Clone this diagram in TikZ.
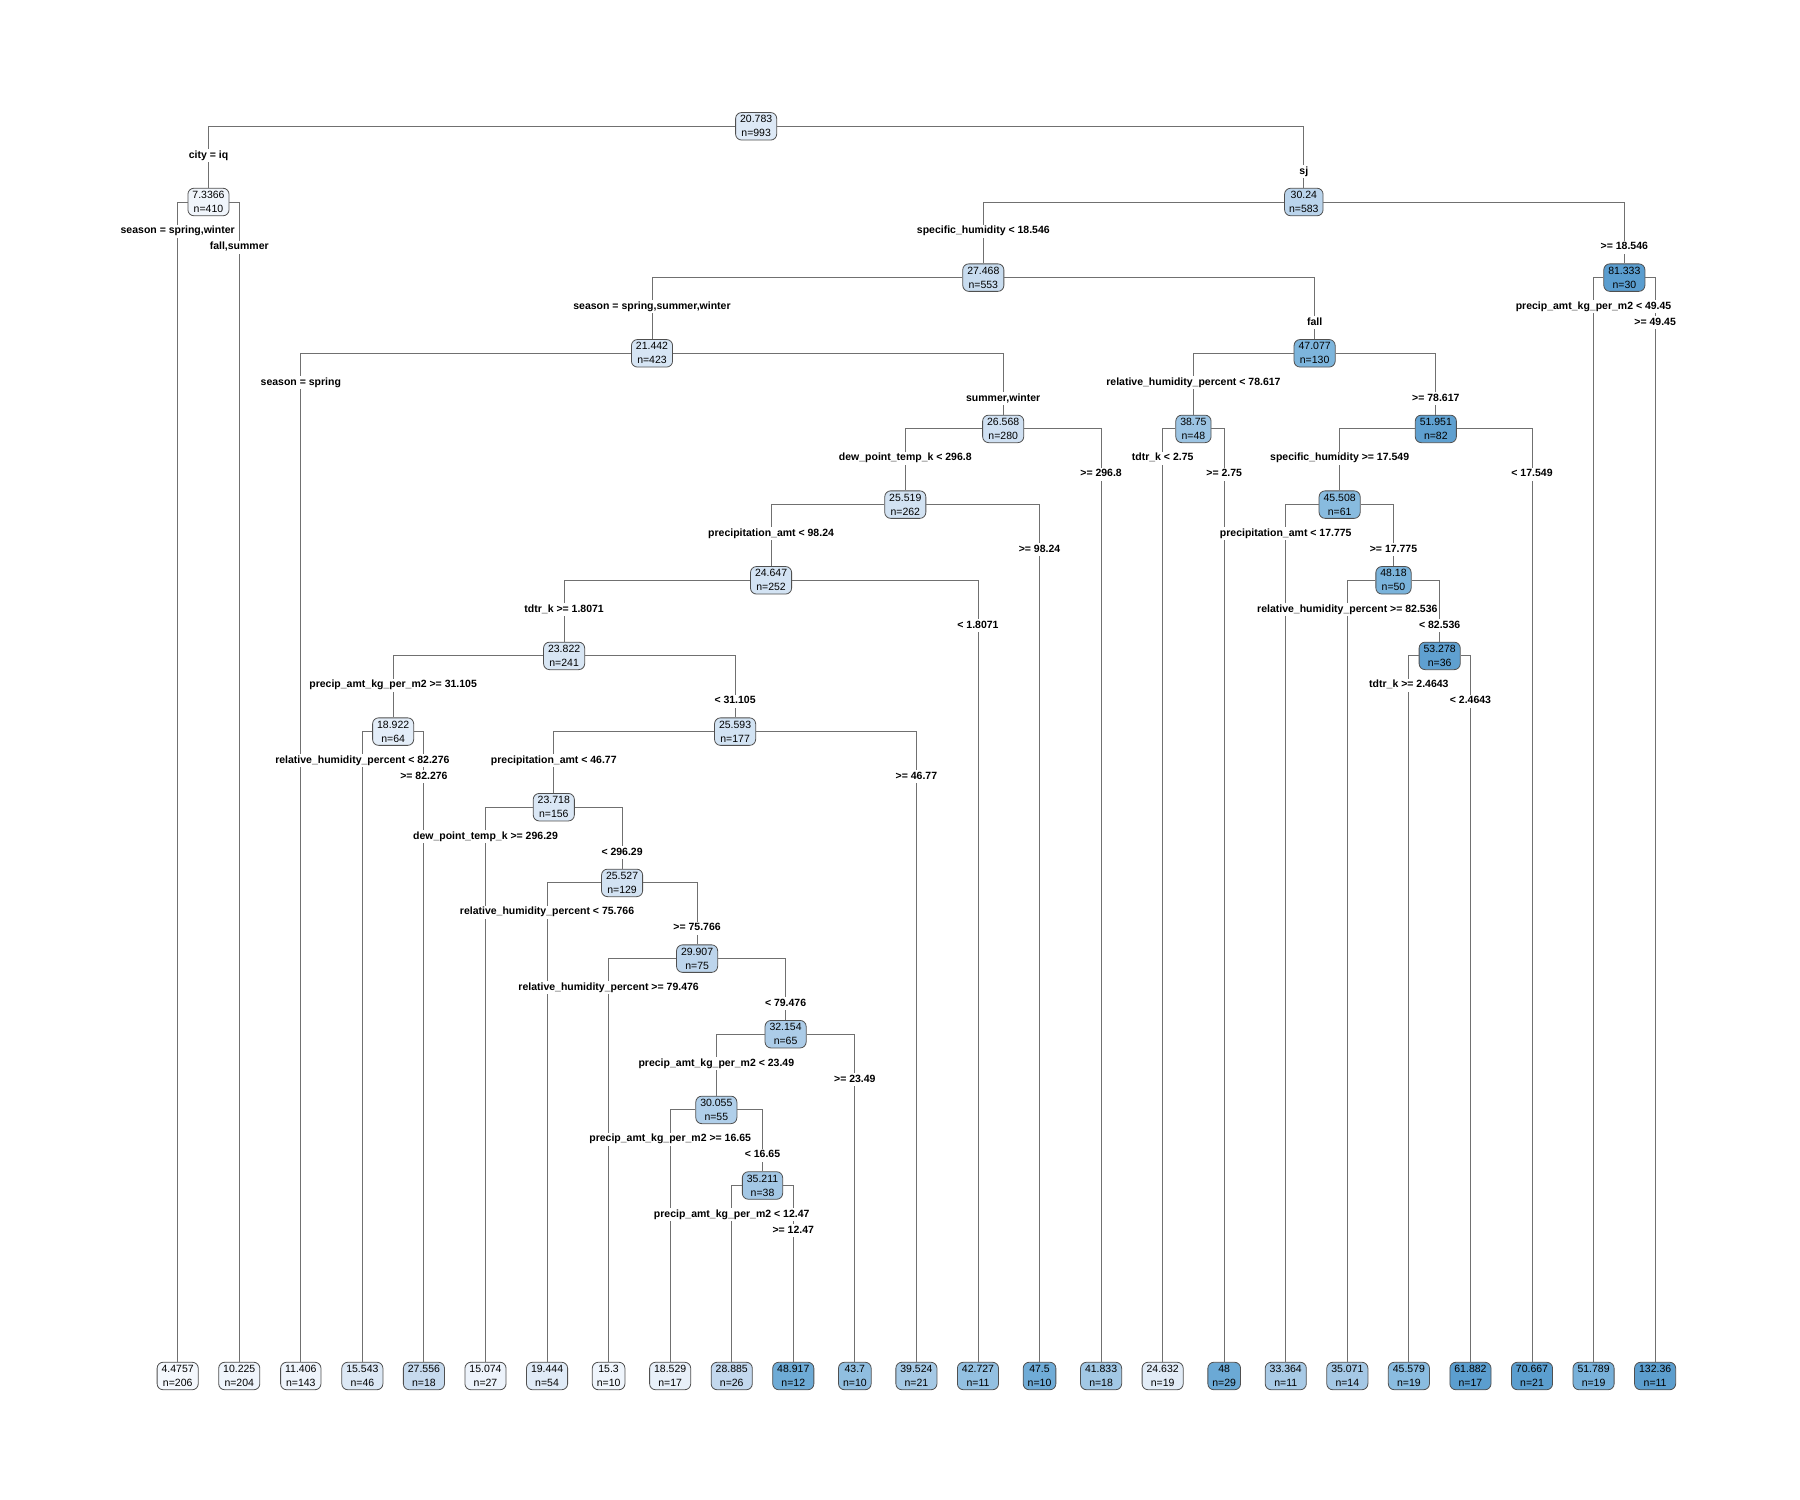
\documentclass[tikz,border=0pt]{standalone}
\usepackage{fontspec}
\setmainfont{Liberation Sans}
\usetikzlibrary{calc}
\definecolor{ln}{HTML}{707070}
\definecolor{bd}{HTML}{505050}
% node fills
\definecolor{cA}{HTML}{DDE9F6}% 20.783
\definecolor{cB}{HTML}{F0F5FB}% 7.3366
\definecolor{cC}{HTML}{BAD4EC}% 30.24
\definecolor{cD}{HTML}{C8DCEF}% 27.468
\definecolor{cE}{HTML}{5A9DCF}% 81.333
\definecolor{cF}{HTML}{D6E5F4}% 21.442
\definecolor{cG}{HTML}{7DB5DC}% 47.077
\definecolor{cH}{HTML}{CFE0F2}% 26.568
\definecolor{cI}{HTML}{9CC4E3}% 38.75
\definecolor{cJ}{HTML}{5FA0D0}% 51.951
\definecolor{cK}{HTML}{D2E2F2}% 25.519
\definecolor{cL}{HTML}{88BBDF}% 45.508
\definecolor{cM}{HTML}{D3E3F3}% 24.647
\definecolor{cN}{HTML}{7AB3DB}% 48.18
\definecolor{cO}{HTML}{D8E6F4}% 23.822
\definecolor{cP}{HTML}{5FA0D0}% 53.278
\definecolor{cQ}{HTML}{E3EDF8}% 18.922
\definecolor{cR}{HTML}{D2E3F3}% 25.593
\definecolor{cS}{HTML}{DAE7F5}% 23.718
\definecolor{cT}{HTML}{D2E2F2}% 25.527
\definecolor{cU}{HTML}{BDD5EC}% 29.907
\definecolor{cV}{HTML}{ACCCE8}% 32.154
\definecolor{cW}{HTML}{B0CFEA}% 30.055
\definecolor{cX}{HTML}{A3C7E5}% 35.211
% leaf fills
\definecolor{f0}{HTML}{F4F8FD}
\definecolor{f1}{HTML}{EFF5FC}
\definecolor{f2}{HTML}{EEF4FB}
\definecolor{f3}{HTML}{DCE8F5}
\definecolor{f4}{HTML}{C6DAEE}
\definecolor{f5}{HTML}{EDF3FB}
\definecolor{f6}{HTML}{E0EBF7}
\definecolor{f7}{HTML}{EFF5FC}
\definecolor{f8}{HTML}{E8F0F9}
\definecolor{f9}{HTML}{C3D8EE}
\definecolor{f10}{HTML}{6EABD6}
\definecolor{f11}{HTML}{90BEE0}
\definecolor{f12}{HTML}{A5C9E5}
\definecolor{f13}{HTML}{93C0E1}
\definecolor{f14}{HTML}{70ACD7}
\definecolor{f15}{HTML}{A2C8E5}
\definecolor{f16}{HTML}{E2ECF7}
\definecolor{f17}{HTML}{6BA9D5}
\definecolor{f18}{HTML}{A8CAE6}
\definecolor{f19}{HTML}{A5C8E5}
\definecolor{f20}{HTML}{8ABCE0}
\definecolor{f21}{HTML}{5B9ECF}
\definecolor{f22}{HTML}{5B9ECF}
\definecolor{f23}{HTML}{78B1DA}
\definecolor{f24}{HTML}{5C9ECE}
\tikzset{
  nd/.style={draw=bd, line width=0.8pt, rounded corners=6pt, align=center,
    font=\fontsize{10.5}{14}\selectfont, inner xsep=4.5pt, inner ysep=0pt,
    minimum height=27.5pt},
  br/.style={draw=ln, line width=0.9pt},
  lbl/.style={fill=white, inner xsep=1pt, inner ysep=1.5pt,
    font=\fontsize{10.5}{12}\selectfont\bfseries, text height=7.6pt, text depth=2.2pt}
}
\newcommand\brsplit[5]{%
  \draw[br] (#1.west) -| (#2.north);
  \draw[br] (#1.east) -| (#3.north);
}
\newcommand\brlab[5]{%
  \node[lbl] (#1-l) at ($(#2 |- #1)+(0,29.2)$) {#4};
  \node[lbl] (#1-r) at ($(#3 |- #1)+(0,45.2)$) {#5};
}
\newcommand\treedata[1]{%
#1{n1}{n2}{n3}{city = iq}{sj}%
#1{n2}{lf0}{lf1}{season = spring,winter}{fall,summer}%
#1{n3}{n4}{n24}{specific\_humidity < 18.546}{>= 18.546}%
#1{n4}{n5}{n18}{season = spring,summer,winter}{fall}%
#1{n5}{lf2}{n6}{season = spring}{summer,winter}%
#1{n6}{n7}{lf15}{dew\_point\_temp\_k < 296.8}{>= 296.8}%
#1{n7}{n8}{lf14}{precipitation\_amt < 98.24}{>= 98.24}%
#1{n8}{n9}{lf13}{tdtr\_k >= 1.8071}{< 1.8071}%
#1{n9}{n10}{n11}{precip\_amt\_kg\_per\_m2 >= 31.105}{< 31.105}%
#1{n10}{lf3}{lf4}{relative\_humidity\_percent < 82.276}{>= 82.276}%
#1{n11}{n12}{lf12}{precipitation\_amt < 46.77}{>= 46.77}%
#1{n12}{lf5}{n13}{dew\_point\_temp\_k >= 296.29}{< 296.29}%
#1{n13}{lf6}{n14}{relative\_humidity\_percent < 75.766}{>= 75.766}%
#1{n14}{lf7}{n15}{relative\_humidity\_percent >= 79.476}{< 79.476}%
#1{n15}{n16}{lf11}{precip\_amt\_kg\_per\_m2 < 23.49}{>= 23.49}%
#1{n16}{lf8}{n17}{precip\_amt\_kg\_per\_m2 >= 16.65}{< 16.65}%
#1{n17}{lf9}{lf10}{precip\_amt\_kg\_per\_m2 < 12.47}{>= 12.47}%
#1{n18}{n19}{n20}{relative\_humidity\_percent < 78.617}{>= 78.617}%
#1{n19}{lf16}{lf17}{tdtr\_k < 2.75}{>= 2.75}%
#1{n20}{n21}{lf22}{specific\_humidity >= 17.549}{< 17.549}%
#1{n21}{lf18}{n22}{precipitation\_amt < 17.775}{>= 17.775}%
#1{n22}{lf19}{n23}{relative\_humidity\_percent >= 82.536}{< 82.536}%
#1{n23}{lf20}{lf21}{tdtr\_k >= 2.4643}{< 2.4643}%
#1{n24}{lf23}{lf24}{precip\_amt\_kg\_per\_m2 < 49.45}{>= 49.45}%
}
\begin{document}
\begin{tikzpicture}[x=61.56pt, y=-1pt]
\useasboundingbox[fill=white] (-2.8866,0) rectangle (26.3534,1500);
% internal nodes
\node[nd, fill=cA] (n1)  at (9.3967,126.3) {20.783\\n=993};
\node[nd, fill=cB] (n2)  at (0.5,202.0) {7.3366\\n=410};
\node[nd, fill=cC] (n3)  at (18.2934,202.0) {30.24\\n=583};
\node[nd, fill=cD] (n4)  at (13.0868,277.6) {27.468\\n=553};
\node[nd, fill=cE] (n24) at (23.5,277.6) {81.333\\n=30};
\node[nd, fill=cF] (n5)  at (7.7048,353.3) {21.442\\n=423};
\node[nd, fill=cG] (n18) at (18.4688,353.3) {47.077\\n=130};
\node[nd, fill=cH] (n6)  at (13.4097,428.9) {26.568\\n=280};
\node[nd, fill=cI] (n19) at (16.5,428.9) {38.75\\n=48};
\node[nd, fill=cJ] (n20) at (20.4375,428.9) {51.951\\n=82};
\node[nd, fill=cK] (n7)  at (11.8193,504.6) {25.519\\n=262};
\node[nd, fill=cL] (n21) at (18.875,504.6) {45.508\\n=61};
\node[nd, fill=cM] (n8)  at (9.6387,580.3) {24.647\\n=252};
\node[nd, fill=cN] (n22) at (19.75,580.3) {48.18\\n=50};
\node[nd, fill=cO] (n9)  at (6.2773,655.9) {23.822\\n=241};
\node[nd, fill=cP] (n23) at (20.5,655.9) {53.278\\n=36};
\node[nd, fill=cQ] (n10) at (3.5,731.6) {18.922\\n=64};
\node[nd, fill=cR] (n11) at (9.0547,731.6) {25.593\\n=177};
\node[nd, fill=cS] (n12) at (6.1094,807.2) {23.718\\n=156};
\node[nd, fill=cT] (n13) at (7.2188,882.9) {25.527\\n=129};
\node[nd, fill=cU] (n14) at (8.4375,958.6) {29.907\\n=75};
\node[nd, fill=cV] (n15) at (9.875,1034.2) {32.154\\n=65};
\node[nd, fill=cW] (n16) at (8.75,1109.9) {30.055\\n=55};
\node[nd, fill=cX] (n17) at (9.5,1185.5) {35.211\\n=38};
% leaves
\node[nd, fill=f0]  (lf0)  at (0,1376)  {4.4757\\n=206};
\node[nd, fill=f1]  (lf1)  at (1,1376)  {10.225\\n=204};
\node[nd, fill=f2]  (lf2)  at (2,1376)  {11.406\\n=143};
\node[nd, fill=f3]  (lf3)  at (3,1376)  {15.543\\n=46};
\node[nd, fill=f4]  (lf4)  at (4,1376)  {27.556\\n=18};
\node[nd, fill=f5]  (lf5)  at (5,1376)  {15.074\\n=27};
\node[nd, fill=f6]  (lf6)  at (6,1376)  {19.444\\n=54};
\node[nd, fill=f7]  (lf7)  at (7,1376)  {15.3\\n=10};
\node[nd, fill=f8]  (lf8)  at (8,1376)  {18.529\\n=17};
\node[nd, fill=f9]  (lf9)  at (9,1376)  {28.885\\n=26};
\node[nd, fill=f10] (lf10) at (10,1376) {48.917\\n=12};
\node[nd, fill=f11] (lf11) at (11,1376) {43.7\\n=10};
\node[nd, fill=f12] (lf12) at (12,1376) {39.524\\n=21};
\node[nd, fill=f13] (lf13) at (13,1376) {42.727\\n=11};
\node[nd, fill=f14] (lf14) at (14,1376) {47.5\\n=10};
\node[nd, fill=f15] (lf15) at (15,1376) {41.833\\n=18};
\node[nd, fill=f16] (lf16) at (16,1376) {24.632\\n=19};
\node[nd, fill=f17] (lf17) at (17,1376) {48\\n=29};
\node[nd, fill=f18] (lf18) at (18,1376) {33.364\\n=11};
\node[nd, fill=f19] (lf19) at (19,1376) {35.071\\n=14};
\node[nd, fill=f20] (lf20) at (20,1376) {45.579\\n=19};
\node[nd, fill=f21] (lf21) at (21,1376) {61.882\\n=17};
\node[nd, fill=f22] (lf22) at (22,1376) {70.667\\n=21};
\node[nd, fill=f23] (lf23) at (23,1376) {51.789\\n=19};
\node[nd, fill=f24] (lf24) at (24,1376) {132.36\\n=11};
% branches, then split labels on top
\treedata\brsplit
\treedata\brlab
\end{tikzpicture}
\end{document}
